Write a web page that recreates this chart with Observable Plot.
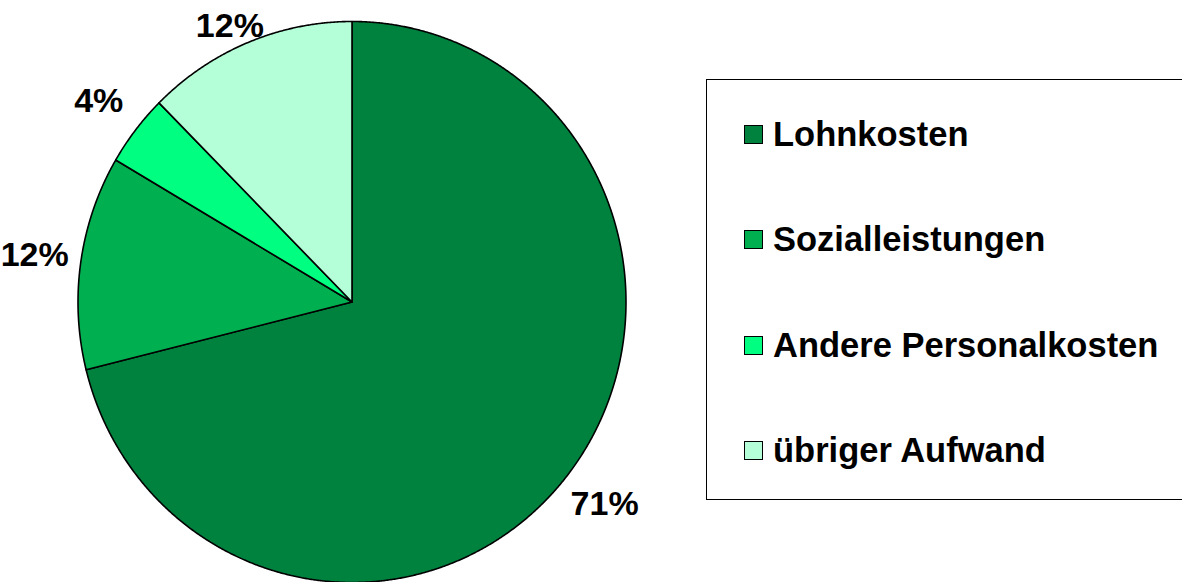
<!DOCTYPE html>
<html>
<head>
<meta charset="utf-8">
<script src="https://cdn.jsdelivr.net/npm/d3@7"></script>
<script src="https://cdn.jsdelivr.net/npm/@observablehq/plot@0.6"></script>
<style>
  html, body { margin: 0; padding: 0; background: #fff; }
  #wrap { position: relative; width: 1182px; height: 582px; overflow: hidden; font-family: "Liberation Sans", Arial, sans-serif; }
  #legend { position: absolute; left: 706px; top: 79px; width: 500px; height: 421px; border: 1px solid #000; box-sizing: border-box; background: #fff; }
  .item { position: absolute; left: 37px; height: 40px; display: flex; align-items: center; font-weight: bold; font-size: 34.5px; color: #000; white-space: nowrap; }
  .sw { width: 17px; height: 17px; border: 1px solid #000; margin-right: 10px; flex: none; }
</style>
</head>
<body>
<div id="wrap"></div>
<script>
// ---- data ----
const categories = ["Lohnkosten", "Sozialleistungen", "Andere Personalkosten", "übriger Aufwand"];
const values = [70.9, 12.3, 4.1, 12.4];
const labels = ["71%", "12%", "4%", "12%"];
const colors = ["#00823F", "#00B050", "#00FF80", "#B4FFD8"];

// ---- geometry (pie slices as closed polygons in a unit data space) ----
const pie = d3.pie().sort(null).value(d => d.value).startAngle(0).endAngle(2 * Math.PI);
const arcs = pie(categories.map((name, i) => ({name, value: values[i], label: labels[i]})));

const slicePts = [];
for (const a of arcs) {
  slicePts.push({name: a.data.name, x: 0, y: 0});
  const n = Math.max(2, Math.ceil((a.endAngle - a.startAngle) / (Math.PI / 720)));
  for (let k = 0; k <= n; k++) {
    const t = a.startAngle + (a.endAngle - a.startAngle) * k / n;
    slicePts.push({name: a.data.name, x: Math.sin(t), y: Math.cos(t)});
  }
  slicePts.push({name: a.data.name, x: 0, y: 0});
}

const labelR = 1.17;
const labelPts = arcs.map(a => {
  const m = (a.startAngle + a.endAngle) / 2;
  return {label: a.data.label, x: labelR * Math.sin(m), y: Math.min(0.985, labelR * Math.cos(m))};
});

const W = 1182, H = 582;
const cx = 351.5, cy = 301.5, rx = 274, ry = 280.5;

const chart = Plot.plot({
  width: W,
  height: H,
  marginLeft: cx - rx,
  marginRight: W - (cx + rx),
  marginTop: cy - ry,
  marginBottom: H - (cy + ry),
  style: {background: "transparent", overflow: "visible"},
  x: {domain: [-1, 1], axis: null},
  y: {domain: [-1, 1], axis: null},
  color: {domain: categories, range: colors},
  marks: [
    Plot.line(slicePts, {x: "x", y: "y", z: "name", fill: "name", stroke: "#000", strokeWidth: 1.6, strokeLinejoin: "round", curve: "linear"}),
    Plot.text(labelPts, {x: "x", y: "y", text: "label", fontSize: 34, fontWeight: "bold", fontFamily: "'Liberation Sans', Arial, sans-serif", fill: "#000"})
  ]
});
chart.style.position = "absolute";
chart.style.left = "0px";
chart.style.top = "0px";
const wrap = document.getElementById("wrap");
wrap.appendChild(chart);

// ---- legend ----
const legend = document.createElement("div");
legend.id = "legend";
const rowCenters = [54, 159.5, 265, 370.5];
categories.forEach((name, i) => {
  const it = document.createElement("div");
  it.className = "item";
  it.style.top = (rowCenters[i] - 20) + "px";
  const sw = document.createElement("span");
  sw.className = "sw";
  sw.style.background = colors[i];
  const tx = document.createElement("span");
  tx.textContent = name;
  it.appendChild(sw);
  it.appendChild(tx);
  legend.appendChild(it);
});
wrap.appendChild(legend);
</script>
</body>
</html>
